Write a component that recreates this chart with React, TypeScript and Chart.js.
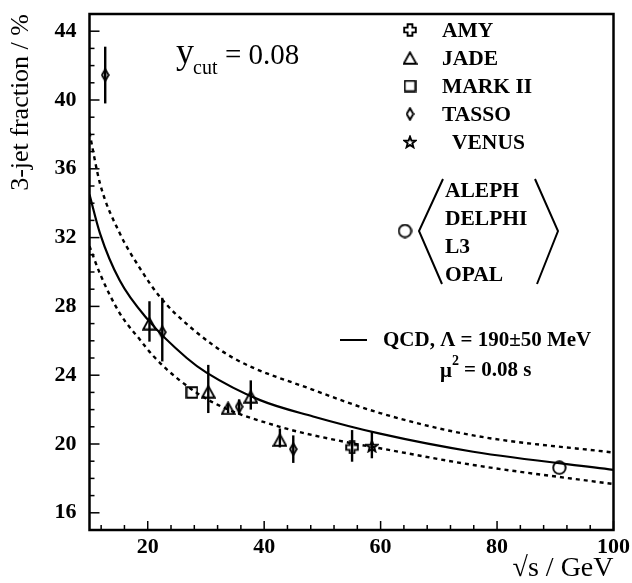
import React, { useEffect, useRef } from 'react';
import { Chart, registerables } from 'chart.js';

Chart.register(...registerables);

// ---- axes ----
const X_MIN = 10;
const X_MAX = 100;
const Y_MIN = 15;
const Y_MAX = 45;
const xTickValues = [20, 40, 60, 80, 100];
const yTickValues = [16, 20, 24, 28, 32, 36, 40, 44];
const xMinorTicks = [12, 16, 20, 24, 28, 32, 36, 40, 44, 48, 52, 56, 60, 64, 68, 72, 76, 80, 84, 88, 92, 96, 100];
const yMinorTicks = [16, 17, 18, 19, 20, 21, 22, 23, 24, 25, 26, 27, 28, 29, 30, 31, 32, 33, 34, 35, 36, 37, 38, 39, 40, 41, 42, 43, 44];

// ---- QCD curves ----
const qcdX = [10, 11.8, 15.2, 20.1, 26.7, 30.1, 39.3, 48.4, 59.9, 75.9, 100];
const qcdY = [34.5, 32.25, 29.5, 27.2, 25.0, 24.15, 22.55, 21.6, 20.6, 19.55, 18.5];
const qcdHighX = [10, 11.8, 15.2, 18.7, 22.1, 27.3, 34.7, 48.4, 59.9, 75.9, 100];
const qcdHighY = [38.1, 35.15, 32.25, 30.2, 28.55, 26.8, 25.0, 23.15, 21.8, 20.5, 19.5];
const qcdLowX = [10, 11.8, 15.2, 18.7, 21.0, 25.5, 31.3, 42.7, 54.2, 59.9, 75.9, 100];
const qcdLowY = [31.5, 29.9, 27.6, 26.05, 25.1, 23.7, 22.4, 21.0, 20.1, 19.75, 18.78, 17.67];

// ---- measurements ----
const amyX = [55.1];
const amyY = [19.8];
const amyLo = [18.97];
const amyHi = [20.81];

const jadeX = [20.3, 30.4, 33.8, 37.7, 42.7];
const jadeY = [27.0, 23.04, 22.08, 22.75, 20.23];
const jadeLo = [25.95, 21.8, 21.8, 22.0, 19.8];
const jadeHi = [28.3, 24.6, 22.35, 23.7, 20.9];

const markX = [27.6];
const markY = [23.0];

const tassoX = [12.7, 22.5, 35.7, 45.0];
const tassoY = [41.45, 26.5, 22.17, 19.7];
const tassoLo = [39.8, 24.8, 21.7, 18.9];
const tassoHi = [43.1, 28.5, 22.6, 20.5];

const venusX = [58.5];
const venusY = [19.88];
const venusLo = [19.17];
const venusHi = [20.72];

const lepX = [90.7];
const lepY = [18.62];

const legendNames = ['AMY', 'JADE', 'MARK II', 'TASSO', 'VENUS'];
const lepNames = ['ALEPH', 'DELPHI', 'L3', 'OPAL'];

const SERIF = '"Liberation Serif", "DejaVu Serif", serif';

type Kind = 'cross' | 'triangle' | 'square' | 'diamond' | 'star' | 'circle';

function makeMarker(kind: Kind): HTMLCanvasElement {
  const c = document.createElement('canvas');
  const dims: Record<Kind, [number, number]> = {
    cross: [14, 14],
    triangle: [15, 14],
    square: [13, 13],
    diamond: [9, 14],
    star: [14, 14],
    circle: [15, 15],
  };
  const [w, h] = dims[kind];
  c.width = w;
  c.height = h;
  const ctx = c.getContext('2d')!;
  ctx.strokeStyle = '#000';
  ctx.lineWidth = 1.9;
  ctx.lineJoin = 'miter';
  ctx.beginPath();
  if (kind === 'triangle') {
    ctx.moveTo(w / 2, 1.4);
    ctx.lineTo(w - 1.2, h - 1.2);
    ctx.lineTo(1.2, h - 1.2);
    ctx.closePath();
  } else if (kind === 'square') {
    ctx.rect(1.2, 1.2, w - 2.4, h - 2.4);
  } else if (kind === 'diamond') {
    ctx.moveTo(w / 2, 1.2);
    ctx.lineTo(w - 1.2, h / 2);
    ctx.lineTo(w / 2, h - 1.2);
    ctx.lineTo(1.2, h / 2);
    ctx.closePath();
  } else if (kind === 'cross') {
    const cx = w / 2, cy = h / 2, a = 2.4, r = w / 2 - 1.2;
    ctx.moveTo(cx - a, cy - r);
    ctx.lineTo(cx + a, cy - r);
    ctx.lineTo(cx + a, cy - a);
    ctx.lineTo(cx + r, cy - a);
    ctx.lineTo(cx + r, cy + a);
    ctx.lineTo(cx + a, cy + a);
    ctx.lineTo(cx + a, cy + r);
    ctx.lineTo(cx - a, cy + r);
    ctx.lineTo(cx - a, cy + a);
    ctx.lineTo(cx - r, cy + a);
    ctx.lineTo(cx - r, cy - a);
    ctx.lineTo(cx - a, cy - a);
    ctx.closePath();
  } else if (kind === 'star') {
    const cx = w / 2, cy = h / 2 + 0.5, ro = w / 2 - 1.2, ri = ro * 0.42;
    for (let i = 0; i < 10; i++) {
      const r = i % 2 === 0 ? ro : ri;
      const ang = -Math.PI / 2 + (i * Math.PI) / 5;
      const px = cx + r * Math.cos(ang), py = cy + r * Math.sin(ang);
      if (i === 0) ctx.moveTo(px, py);
      else ctx.lineTo(px, py);
    }
    ctx.closePath();
  } else {
    ctx.arc(w / 2, h / 2, w / 2 - 1.3, 0, Math.PI * 2);
  }
  ctx.stroke();
  return c;
}

const zip = (xs: number[], ys: number[]) => xs.map((x, i) => ({ x, y: ys[i] }));

export default function App() {
  const ref = useRef<HTMLCanvasElement | null>(null);

  useEffect(() => {
    if (!ref.current) return;
    const markers: Record<Kind, HTMLCanvasElement> = {
      cross: makeMarker('cross'),
      triangle: makeMarker('triangle'),
      square: makeMarker('square'),
      diamond: makeMarker('diamond'),
      star: makeMarker('star'),
      circle: makeMarker('circle'),
    };

    const errorBars = {
      id: 'errorBars',
      afterDatasetsDraw(chart: any) {
        const { ctx, scales } = chart;
        ctx.save();
        ctx.strokeStyle = '#000';
        ctx.lineWidth = 2.4;
        chart.data.datasets.forEach((ds: any) => {
          if (!ds.errLo) return;
          ds.data.forEach((p: any, i: number) => {
            const px = scales.x.getPixelForValue(p.x);
            ctx.beginPath();
            ctx.moveTo(px, scales.y.getPixelForValue(ds.errLo[i]));
            ctx.lineTo(px, scales.y.getPixelForValue(ds.errHi[i]));
            ctx.stroke();
          });
        });
        ctx.restore();
      },
    };

    const decor = {
      id: 'decor',
      afterDraw(chart: any) {
        const { ctx, chartArea: ca, scales } = chart;
        const xs = scales.x, ys = scales.y;
        ctx.save();
        ctx.strokeStyle = '#000';
        ctx.fillStyle = '#000';
        // frame
        ctx.lineWidth = 2.5;
        ctx.strokeRect(ca.left, ca.top, ca.right - ca.left, ca.bottom - ca.top);
        // inward ticks
        ctx.lineWidth = 1.5;
        xMinorTicks.forEach((v) => {
          const px = xs.getPixelForValue(v);
          const len = xTickValues.includes(v) ? 9 : 5;
          ctx.beginPath();
          ctx.moveTo(px, ca.bottom);
          ctx.lineTo(px, ca.bottom - len);
          ctx.stroke();
        });
        yMinorTicks.forEach((v) => {
          const py = ys.getPixelForValue(v);
          const len = yTickValues.includes(v) ? 10 : 5;
          ctx.beginPath();
          ctx.moveTo(ca.left, py);
          ctx.lineTo(ca.left + len, py);
          ctx.stroke();
        });

        // y_cut label
        ctx.textBaseline = 'alphabetic';
        ctx.textAlign = 'left';
        ctx.font = `36px ${SERIF}`;
        ctx.fillText('y', 176, 63);
        ctx.font = `20px ${SERIF}`;
        ctx.fillText('cut', 193, 74);
        ctx.font = `29px ${SERIF}`;
        ctx.fillText('= 0.08', 225, 64);

        // experiment legend
        const kinds: Kind[] = ['cross', 'triangle', 'square', 'diamond', 'star'];
        const rows = [30, 58, 86, 114, 142];
        ctx.font = `bold 21.5px ${SERIF}`;
        ctx.textBaseline = 'middle';
        legendNames.forEach((name, i) => {
          const m = markers[kinds[i]];
          ctx.drawImage(m, 410 - m.width / 2, rows[i] - m.height / 2);
          ctx.fillText(name, i === 4 ? 452 : 442, rows[i] + 1);
        });

        // LEP bracket legend
        const cm = markers.circle;
        ctx.drawImage(cm, 405 - cm.width / 2, 231 - cm.height / 2);
        ctx.lineWidth = 2;
        ctx.beginPath();
        ctx.moveTo(443, 179);
        ctx.lineTo(419, 231);
        ctx.lineTo(442, 284);
        ctx.moveTo(535, 179);
        ctx.lineTo(558, 231);
        ctx.lineTo(537, 284);
        ctx.stroke();
        const lepRows = [191, 219, 247, 275];
        lepNames.forEach((n, i) => ctx.fillText(n, 445, lepRows[i]));

        // QCD legend
        ctx.lineWidth = 2;
        ctx.beginPath();
        ctx.moveTo(340, 340);
        ctx.lineTo(367, 340);
        ctx.stroke();
        ctx.font = `bold 21px ${SERIF}`;
        ctx.fillText('QCD, \u039B = 190\u00B150 MeV', 383, 341);
        ctx.fillText('\u03BC', 440, 372);
        ctx.font = `bold 14px ${SERIF}`;
        ctx.fillText('2', 452, 361);
        ctx.font = `bold 21px ${SERIF}`;
        ctx.fillText('= 0.08 s', 464, 371);
        ctx.restore();
      },
    };

    const lineDs = (label: string, xs: number[], ys: number[], dashed: boolean) => ({
      type: 'line',
      label,
      data: zip(xs, ys),
      borderColor: '#000',
      borderWidth: dashed ? 2.4 : 2.2,
      borderDash: dashed ? [4, 4] : [],
      pointRadius: 0,
      cubicInterpolationMode: 'monotone',
      fill: false,
    });

    const chart = new Chart(ref.current, {
      type: 'scatter',
      data: {
        datasets: [
          lineDs('QCD', qcdX, qcdY, false),
          lineDs('QCD high', qcdHighX, qcdHighY, true),
          lineDs('QCD low', qcdLowX, qcdLowY, true),
          { label: 'AMY', data: zip(amyX, amyY), pointStyle: markers.cross, pointRadius: 6, errLo: amyLo, errHi: amyHi },
          { label: 'JADE', data: zip(jadeX, jadeY), pointStyle: markers.triangle, pointRadius: 6, errLo: jadeLo, errHi: jadeHi },
          { label: 'MARK II', data: zip(markX, markY), pointStyle: markers.square, pointRadius: 6 },
          { label: 'TASSO', data: zip(tassoX, tassoY), pointStyle: markers.diamond, pointRadius: 6, errLo: tassoLo, errHi: tassoHi },
          { label: 'VENUS', data: zip(venusX, venusY), pointStyle: markers.star, pointRadius: 6, errLo: venusLo, errHi: venusHi },
          { label: 'LEP', data: zip(lepX, lepY), pointStyle: markers.circle, pointRadius: 6 },
        ],
      },
      options: {
        responsive: false,
        animation: false,
        devicePixelRatio: 1,
        layout: { padding: { left: 0, right: 18.5, top: 14, bottom: 0 } },
        plugins: { legend: { display: false }, tooltip: { enabled: false } },
        scales: {
          x: {
            type: 'linear',
            min: X_MIN,
            max: X_MAX,
            afterBuildTicks: (s: any) => {
              s.ticks = xTickValues.map((v) => ({ value: v }));
            },
            afterFit: (s: any) => {
              s.height = 53;
              s.paddingLeft = 0;
              s.paddingRight = 0;
            },
            grid: { display: false, drawTicks: false },
            border: { display: false },
            ticks: {
              color: '#000',
              font: { family: SERIF, size: 22, weight: 'bold' },
              padding: 4,
              maxRotation: 0,
              autoSkip: false,
            },
            title: {
              display: true,
              text: '\u221As / GeV',
              align: 'end',
              color: '#000',
              font: { family: SERIF, size: 28, lineHeight: 1 },
              padding: { top: 0, bottom: 0 },
            },
          },
          y: {
            type: 'linear',
            min: Y_MIN,
            max: Y_MAX,
            afterBuildTicks: (s: any) => {
              s.ticks = yTickValues.map((v) => ({ value: v }));
            },
            afterFit: (s: any) => {
              s.width = 89.5;
              s.paddingTop = 0;
              s.paddingBottom = 0;
            },
            grid: { display: false, drawTicks: false },
            border: { display: false },
            ticks: {
              color: '#000',
              font: { family: SERIF, size: 22, weight: 'bold' },
              padding: 13,
              autoSkip: false,
            },
            title: {
              display: true,
              text: '3-jet fraction / %',
              align: 'end',
              color: '#000',
              font: { family: SERIF, size: 26, lineHeight: 1 },
              padding: { top: 8, bottom: 0 },
            },
          },
        },
      },
      plugins: [errorBars, decor],
    } as any);

    return () => chart.destroy();
  }, []);

  return (
    <div style={{ position: 'absolute', left: 0, top: 0, width: 632, height: 583, background: '#fff' }}>
      <canvas ref={ref} width={632} height={583} style={{ display: 'block' }} />
    </div>
  );
}
